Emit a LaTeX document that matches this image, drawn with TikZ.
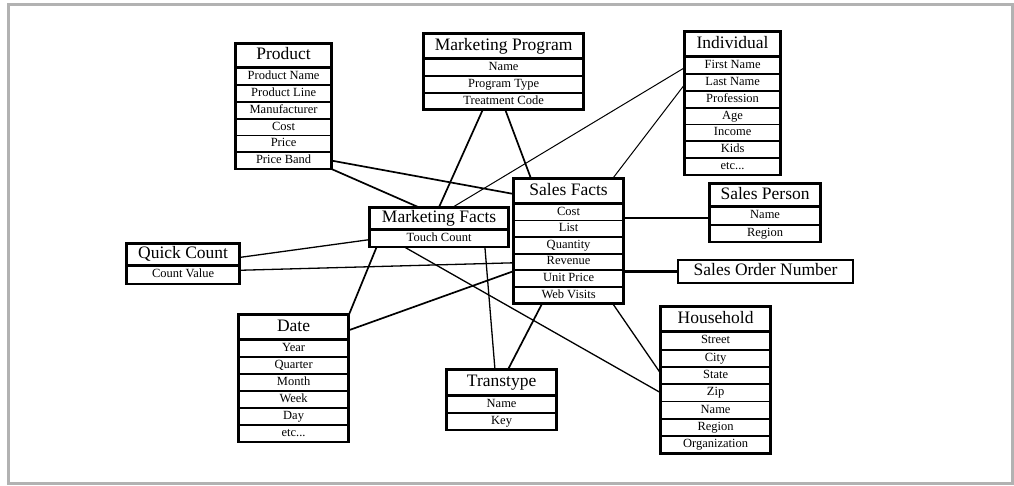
\documentclass[tikz,border=0pt]{standalone}
\usepackage{fontspec}
\setmainfont{Liberation Serif}
\usetikzlibrary{calc,backgrounds}
\definecolor{framegray}{RGB}{178,178,178}
\newcommand\etcdots{etc...}
\tikzset{
  ttl/.style={draw, line width=2.2pt, inner sep=0pt, anchor=north west,
    font=\fontsize{17.5}{20}\selectfont, text height=12pt, text depth=3.5pt},
  rowc/.style={draw, line width=0.8pt, inner sep=0pt, anchor=north,
    font=\fontsize{12.5}{14}\selectfont, text height=8.7pt, text depth=2.6pt},
  tframe/.style={draw, line width=2.4pt},
  pageframe/.style={draw=framegray, line width=3pt},
  cthin/.style={line width=1pt},
  cmed/.style={line width=1.3pt},
  cthick/.style={line width=1.7pt},
  cheavy/.style={line width=2.4pt},
}
% name, x, y, width, title height, row height, title, rows, number of rows
\newcommand\dbtab[9]{%
  \node[ttl, minimum width=#4pt, minimum height=#5pt] (#1-0) at (#2,#3) {#7};
  \foreach [count=\i] \r in {#8} {
    \pgfmathtruncatemacro\p{\i-1}
    \node[rowc, minimum width=#4pt, minimum height=#6pt] (#1-\i) at (#1-\p.south) {\r};
  }
  \draw[tframe] (#1-0.north west) rectangle (#1-#9.south east);
}
\begin{document}
\begin{tikzpicture}[x=1pt,y=-1pt]
\useasboundingbox (0,0) rectangle (1014,485);
\draw[pageframe] (8.5,4.5) rectangle (1012.5,483);

\dbtab{prod}{235}{43}{95}{23}{16}{Product}{Product Name,Product Line,Manufacturer,Cost,Price,Price Band}{6}
\dbtab{mp}{423}{33}{159}{24}{16}{Marketing Program}{Name,Program Type,Treatment Code}{3}
\dbtab{mf}{369}{207}{138}{21}{16}{Marketing Facts}{Touch Count}{1}
\dbtab{sf}{513}{178}{109}{23.5}{15.8}{Sales Facts}{Cost,List,Quantity,Revenue,Unit Price,Web Visits}{6}
\dbtab{ind}{684}{31}{95}{24}{16}{Individual}{First Name,Last Name,Profession,Age,Income,Kids,\etcdots}{7}
\dbtab{sp}{709}{183}{110}{22}{16.5}{Sales Person}{Name,Region}{2}
\node[ttl, minimum width=175pt, minimum height=23pt] (son) at (677,259) {Sales Order Number};
\dbtab{qc}{126}{243}{112}{20.5}{17.5}{Quick Count}{Count Value}{1}
\dbtab{date}{238}{314}{109}{24}{16.2}{Date}{Year,Quarter,Month,Week,Day,\etcdots}{6}
\dbtab{tt}{446}{369}{109}{25}{16}{Transtype}{Name,Key}{2}
\dbtab{hh}{660}{306}{109}{24}{16.5}{Household}{Street,City,State,Zip,Name,Region,Organization}{7}

\begin{scope}[on background layer]
  \draw[cthick] (prod-6.east) -- ([yshift=-3pt]sf-0.west);
  \draw[cthick] (prod-6.south east) -- ($(mf-0.north west)!0.35!(mf-0.north east)$);
  \draw[cthick] ($(mp-3.south west)!0.37!(mp-3.south east)$) -- (mf-0.north);
  \draw[cthick] ($(mp-3.south west)!0.51!(mp-3.south east)$) -- ($(sf-0.north west)!0.16!(sf-0.north east)$);
  \draw[cthin] ([yshift=-2pt]ind-1.west) -- ($(mf-0.north west)!0.6!(mf-0.north east)$);
  \draw[cthin] ([yshift=-2pt]ind-2.west) -- ($(sf-0.north west)!0.9!(sf-0.north east)$);
  \draw[cheavy] ([yshift=-2pt]sp-1.west) -- ([yshift=-2pt]sp-1.west -| sf-1.east);
  \draw[cheavy] (son.west) -- (son.west -| sf-5.east);
  \draw[cmed] ([yshift=-3pt]qc-0.east) -- ([yshift=-1pt]mf-1.west);
  \draw[cmed] ($(qc-1.north east)!0.25!(qc-1.south east)$) -- ([yshift=-1pt]sf-4.west);
  \draw[cthick] ([yshift=-3pt]date-0.east) -- ([yshift=-1pt]sf-5.north west);
  \draw[cthick] (date-0.north east) -- ($(mf-1.south west)!0.05!(mf-1.south east)$);
  \draw[cmed] ($(mf-1.south west)!0.25!(mf-1.south east)$) -- (hh-4.west);
  \draw[cmed] ($(mf-1.south west)!0.83!(mf-1.south east)$) -- ($(tt-0.north west)!0.44!(tt-0.north east)$);
  \draw[cthick] ($(sf-6.south west)!0.26!(sf-6.south east)$) -- ($(tt-0.north west)!0.56!(tt-0.north east)$);
  \draw[cmed] ($(sf-6.south west)!0.9!(sf-6.south east)$) -- ([yshift=2pt]hh-3.west);
\end{scope}
\end{tikzpicture}
\end{document}
